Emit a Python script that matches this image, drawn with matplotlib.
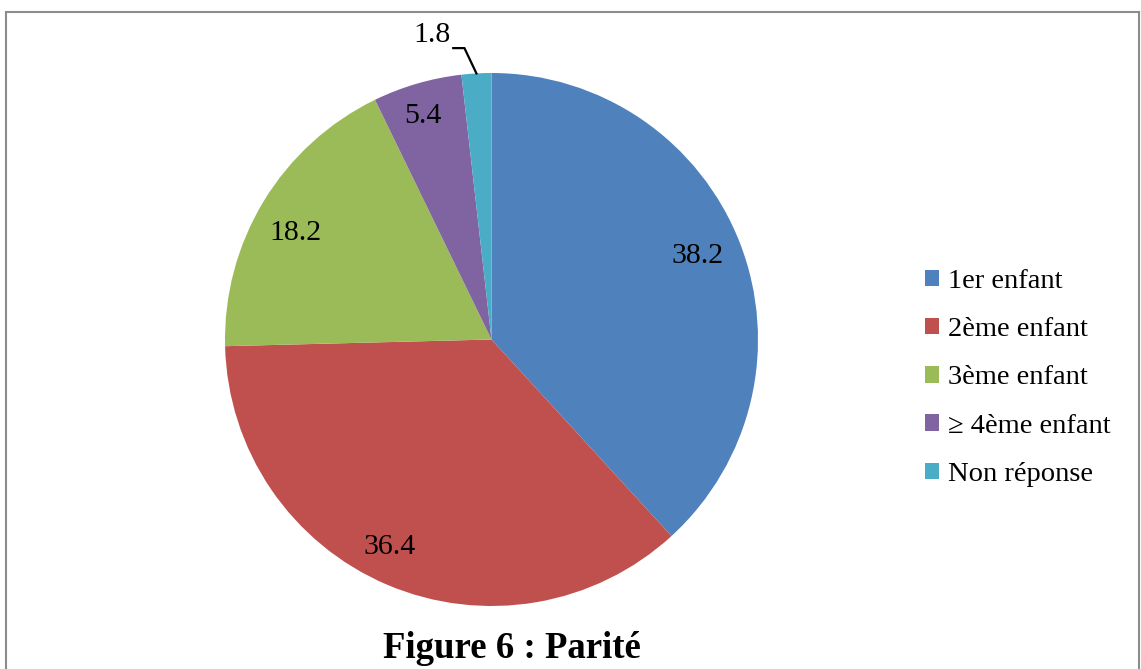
import numpy as np
import matplotlib
matplotlib.use("Agg")
import matplotlib.pyplot as plt
from matplotlib.lines import Line2D
from matplotlib.patches import Patch

categories = ["1er enfant", "2ème enfant", "3ème enfant", "≥ 4ème enfant", "Non réponse"]
values = [38.2, 36.4, 18.2, 5.4, 1.8]
value_labels = ["38.2", "36.4", "18.2", "5.4", "1.8"]
colors = ["#4F81BD", "#C0504D", "#9BBB59", "#8064A2", "#4BACC6"]
title = "Figure 6 : Parité"

plt.rcParams['font.family'] = ['Liberation Serif', 'DejaVu Serif']

W, H = 1141, 669
fig = plt.figure(figsize=(W / 100, H / 100), dpi=100)
fig.patch.set_facecolor("white")

cx, cy, R = 491.5, 339.5, 266.5
ax = fig.add_axes([(cx - R) / W, (H - cy - R) / H, 2 * R / W, 2 * R / H])
wedges, _ = ax.pie(values, colors=colors, startangle=90, counterclock=False,
                   radius=1.0, labeldistance=None,
                   wedgeprops=dict(linewidth=0))
ax.set_xlim(-1, 1)
ax.set_ylim(-1, 1)
ax.set_aspect('equal')
ax.axis('off')

label_dist = [0.84, 0.857, 0.841, 0.888]
label_shift = [1.5, -3.4, 2.1, 0.6]
for i, w in enumerate(wedges):
    mid = (w.theta1 + w.theta2) / 2
    if i < 4:
        a = np.deg2rad(mid + label_shift[i])
        d = label_dist[i]
        ax.annotate(value_labels[i], xy=(d * np.cos(a), d * np.sin(a)),
                    xytext=(0, -2.2), textcoords='offset points',
                    ha='center', va='center', fontsize=21.5, color='black',
                    annotation_clip=False)
    else:
        a = np.deg2rad(mid)
        tip = np.array([np.cos(a), np.sin(a)])
        elbow = tip + np.array([-0.045, 0.095])
        start = elbow + np.array([-0.042, 0.0])
        ax.plot([start[0], elbow[0], tip[0]], [start[1], elbow[1], tip[1]],
                color='black', lw=1.6, clip_on=False, solid_joinstyle='miter')
        ax.text(start[0] - 0.01, start[1] + 0.05, value_labels[i], ha='right', va='center',
                fontsize=21.5, color='black', clip_on=False)

handles = [Patch(facecolor=c, edgecolor='none') for c in colors]
fig.legend(handles, categories, loc='center left',
           bbox_to_anchor=(925 / W, (H - 378) / H), frameon=False,
           fontsize=20.5, handlelength=0.5, handleheight=0.5, handletextpad=0.3,
           labelspacing=0.815, borderpad=0, borderaxespad=0)

fig.text(512 / W, (H - 648) / H, title, ha='center', va='center',
         fontsize=26.5, fontweight='bold')

fc = '#8c8c8c'
lw = 1.5
fig.add_artist(Line2D([6 / W, 6 / W], [0, (H - 12) / H], transform=fig.transFigure, color=fc, lw=lw))
fig.add_artist(Line2D([6 / W, 1139 / W], [(H - 12) / H, (H - 12) / H], transform=fig.transFigure, color=fc, lw=lw))
fig.add_artist(Line2D([1139 / W, 1139 / W], [0, (H - 12) / H], transform=fig.transFigure, color=fc, lw=lw))

fig.savefig("out.png", dpi=100, facecolor='white')
